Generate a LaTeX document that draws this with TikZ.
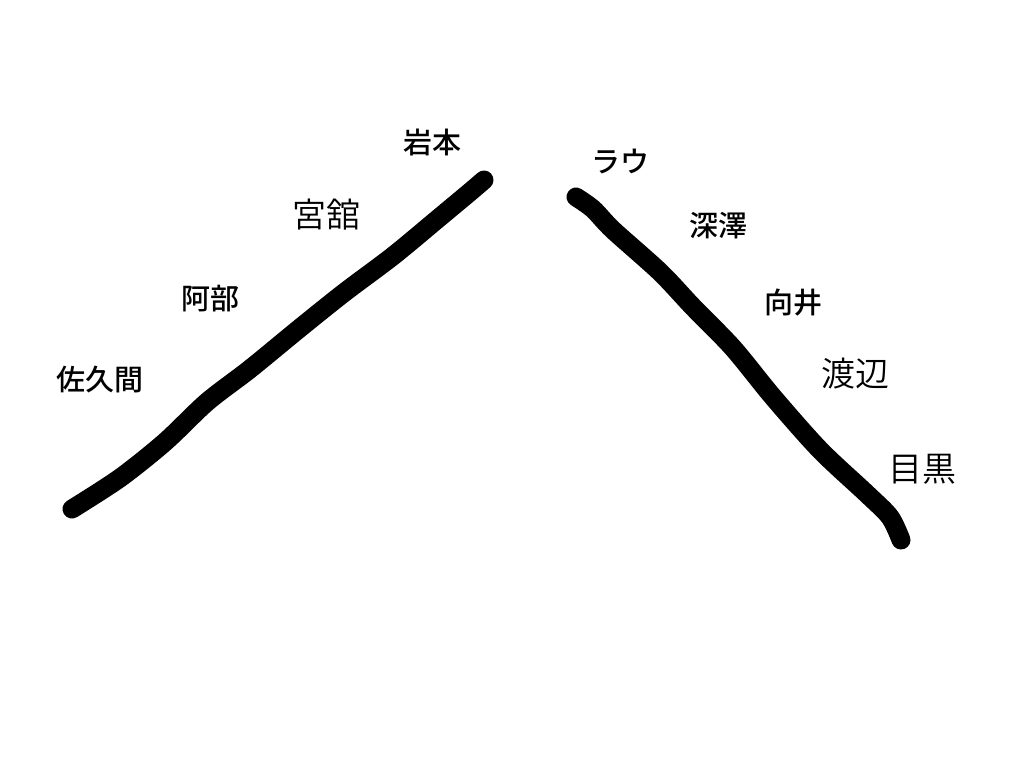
\documentclass[tikz,border=0pt]{standalone}
\usepackage{fontspec}
\usepackage{tikz}
\newfontfamily\jpfont{Noto Sans CJK JP Medium}
\newfontfamily\jplight{Noto Sans CJK JP DemiLight}
\tikzset{
	member/.style={font=\jpfont\fontsize{29}{29}\selectfont, inner sep=0pt},
	memberlight/.style={font=\jplight\fontsize{34}{34}\selectfont, inner sep=0pt},
	stroke/.style={line width=19pt, line cap=round, line join=round}
}

\begin{document}
\begin{tikzpicture}[x=1pt, y=-1pt]
			%%%%% START %%%%%
			
			\useasboundingbox[fill=white] (0, 0) rectangle (1024, 768);
			
			\draw[stroke] plot[smooth, tension=0.5] coordinates {(72, 509) (120, 478) (165, 442) (207, 402) (250, 369) (300, 328) (345, 292) (393, 256) (440, 217) (470, 192) (484, 180)};
			
			\draw[stroke] plot[smooth, tension=0.5] coordinates {(576, 197) (593, 209) (613, 230) (660, 272) (693, 307) (733, 348) (773, 397) (820, 450) (867, 494) (890, 517) (901, 540)};
			
			\node[member] (iwamoto) at (432, 143) {岩本};
			\node[memberlight] (miyadate) at (326, 215) {宮舘};
			\node[member] (abe) at (210, 299) {阿部};
			\node[member] (sakuma) at (100, 380) {佐久間};
			
			\node[member] (raul) at (620, 161) {ラウ};
			\node[member] (fukazawa) at (718, 226) {深澤};
			\node[member] (mukai) at (793, 303) {向井};
			\node[memberlight] (watanabe) at (855, 374) {渡辺};
			\node[memberlight] (meguro) at (922, 469) {目黒};
			
			%%%%% END %%%%%
\end{tikzpicture}
\end{document}
